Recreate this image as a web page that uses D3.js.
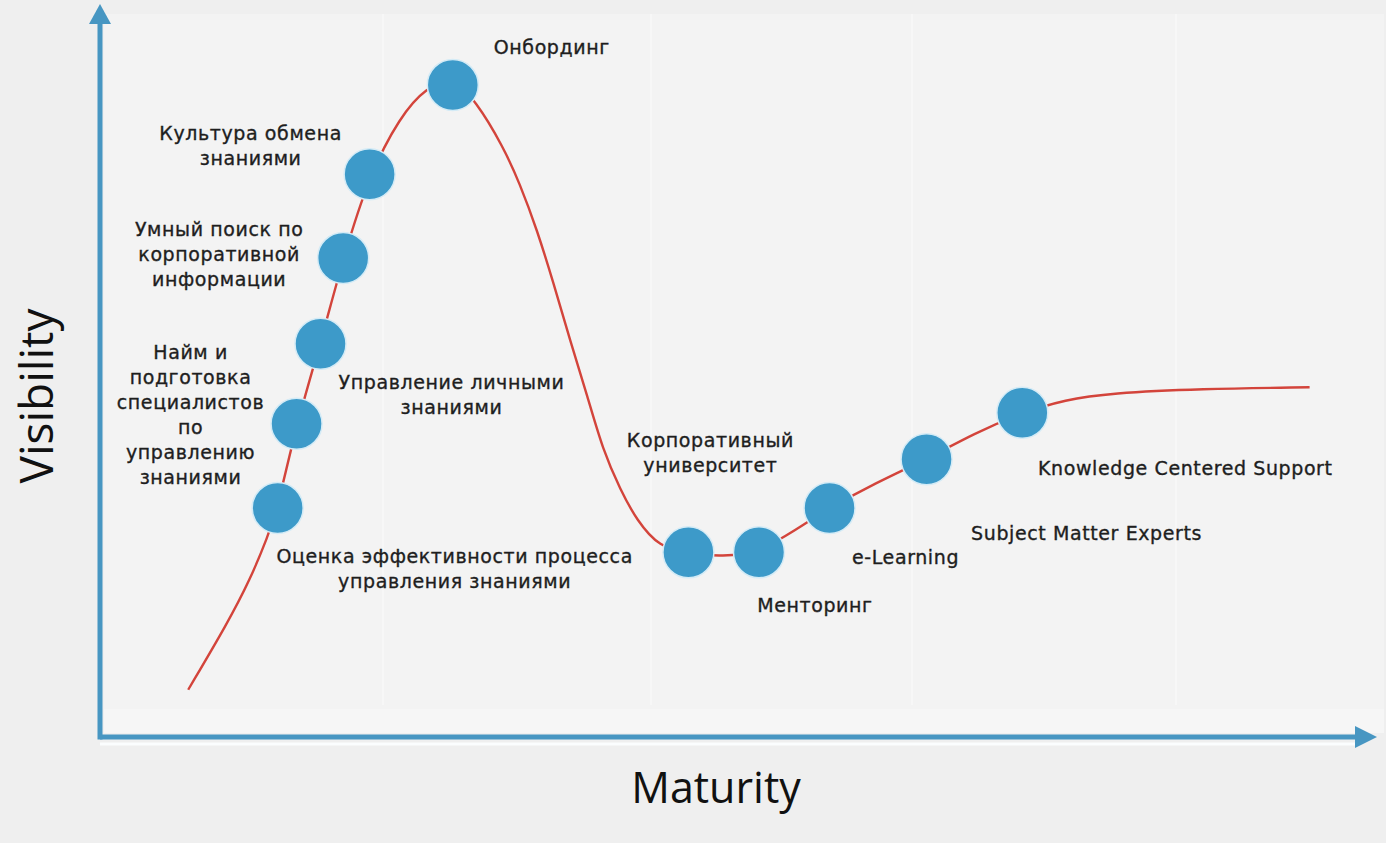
<!DOCTYPE html>
<html><head><meta charset="utf-8">
<script src="https://cdn.jsdelivr.net/npm/d3@7"></script>
<style>
html,body{margin:0;padding:0;background:#f0f0f0;}
svg{display:block;}
</style></head>
<body>
<svg id="chart" width="1386" height="843"></svg>
<script>
// ---- data (maturity 0..100, visibility 0..100) ----
const curveMaturity   = [7.0, 10.1, 11.9, 13.3, 14.1, 15.6, 17.5, 19.3, 21.4, 23.8, 25.9, 28.0, 29.8, 32.0, 33.3, 34.7, 36.0, 37.3, 38.7, 39.9, 41.3, 42.6, 44.4, 46.7, 49.4, 52.3, 55.2, 57.9, 61.5, 65.6, 69.4, 73.2, 76.6, 80.2, 87.3, 96.0];
const curveVisibility = [6.5, 15.6, 21.6, 27.5, 31.5, 43.1, 54.1, 65.9, 77.4, 85.3, 89.4, 90.6, 87.6, 81.2, 76.2, 69.7, 62.4, 54.6, 46.8, 39.5, 34.0, 29.8, 26.1, 25.2, 24.8, 25.4, 28.5, 31.5, 34.9, 38.2, 41.8, 44.6, 46.4, 47.3, 47.9, 48.1];

const technologies = [
  ["Оценка эффективности процесса", "управления знаниями"],
  ["Найм и", "подготовка", "специалистов", "по", "управлению", "знаниями"],
  ["Управление личными", "знаниями"],
  ["Умный поиск по", "корпоративной", "информации"],
  ["Культура обмена", "знаниями"],
  ["Онбординг"],
  ["Корпоративный", "университет"],
  ["Менторинг"],
  ["e-Learning"],
  ["Subject Matter Experts"],
  ["Knowledge Centered Support"]
];
const techMaturity   = [14.1, 15.6, 17.5, 19.3, 21.4, 28.0, 46.7, 52.3, 57.9, 65.6, 73.2];
const techVisibility = [31.5, 43.1, 54.1, 65.9, 77.4, 89.7, 25.4, 25.4, 31.5, 38.2, 44.6];

const xAxisTitle = "Maturity";
const yAxisTitle = "Visibility";

// ---- layout (label offsets in px relative to each marker) ----
const labelOffsets = [[177,48],[-106,-72],[131,38],[-124,-29],[-119,-41],[99,-38],[22,-112],[56,53],[76,49],[160,74],[163,55]];

const W = 1386, H = 843;
const svg = d3.select("#chart");
const x = d3.scaleLinear().domain([0,100]).range([100,1360]);
const y = d3.scaleLinear().domain([0,100]).range([737,10]);

const axisColor = "#4796c2";
const curveColor = "#d3443b";
const dotColor = "#3d9ac9";
const font = "'DejaVu Sans', sans-serif";

// background
svg.append("rect").attr("width",W).attr("height",H).attr("fill","#efefef");
svg.append("rect").attr("x",104).attr("y",14).attr("width",1280).attr("height",695).attr("fill","#f3f3f3");
svg.append("rect").attr("x",104).attr("y",709).attr("width",1280).attr("height",24).attr("fill","#f6f6f6");
[383, 651, 912, 1176].forEach(px => {
  svg.append("line").attr("x1",px).attr("x2",px).attr("y1",14).attr("y2",705)
    .attr("stroke","#f9f9f9").attr("stroke-width",1.5);
});

// curve
const pts = curveMaturity.map((m,i)=>[m,curveVisibility[i]]);
const line = d3.line().x(d=>x(d[0])).y(d=>y(d[1])).curve(d3.curveBasis);
svg.append("path").attr("d",line(pts)).attr("fill","none").attr("stroke",curveColor).attr("stroke-width",2.4);

// axes
const x0 = x(0), y0 = y(0);
svg.append("line").attr("x1",x0).attr("x2",1357).attr("y1",y0+7).attr("y2",y0+7).attr("stroke","#fbfdfe").attr("stroke-width",3);
svg.append("line").attr("x1",x0).attr("x2",1357).attr("y1",y0).attr("y2",y0).attr("stroke",axisColor).attr("stroke-width",5);
svg.append("line").attr("x1",x0).attr("x2",x0).attr("y1",y0+2.5).attr("y2",22).attr("stroke",axisColor).attr("stroke-width",5);
svg.append("path").attr("d",`M${x0-11},${24} L${x0},${4} L${x0+11},${24} Z`).attr("fill",axisColor);
svg.append("path").attr("d",`M1355,${y0-11} L1377,${y0} L1355,${y0+11} Z`).attr("fill",axisColor);

// axis titles
svg.append("text").attr("x",716).attr("y",803).attr("text-anchor","middle")
  .attr("font-family","'Open Sans', sans-serif").attr("font-size",43).attr("fill","#111").text(xAxisTitle);
svg.append("text").attr("transform","translate(53,396) rotate(-90)").attr("text-anchor","middle")
  .attr("font-family","'Open Sans', sans-serif").attr("font-size",46).attr("fill","#111").text(yAxisTitle);

// markers
svg.selectAll("circle.tech").data(technologies).join("circle").attr("class","tech")
  .attr("cx",(d,i)=>x(techMaturity[i])).attr("cy",(d,i)=>y(techVisibility[i]))
  .attr("r",25.5).attr("fill",dotColor).attr("stroke","#d4ebf6").attr("stroke-width",1.5);

// labels
technologies.forEach((lines,i)=>{
  const cx = x(techMaturity[i]) + labelOffsets[i][0];
  const cy = y(techVisibility[i]) + labelOffsets[i][1];
  const t = svg.append("text").attr("text-anchor","middle").attr("font-family",font)
    .attr("font-size",19).attr("letter-spacing",0.6).attr("fill","#1e1e1e")
    .attr("stroke","#1e1e1e").attr("stroke-width",0.35).attr("dominant-baseline","central");
  lines.forEach((s,k)=>{
    t.append("tspan").attr("x",cx).attr("y",cy + k*25).text(s);
  });
});
</script>
</body></html>
